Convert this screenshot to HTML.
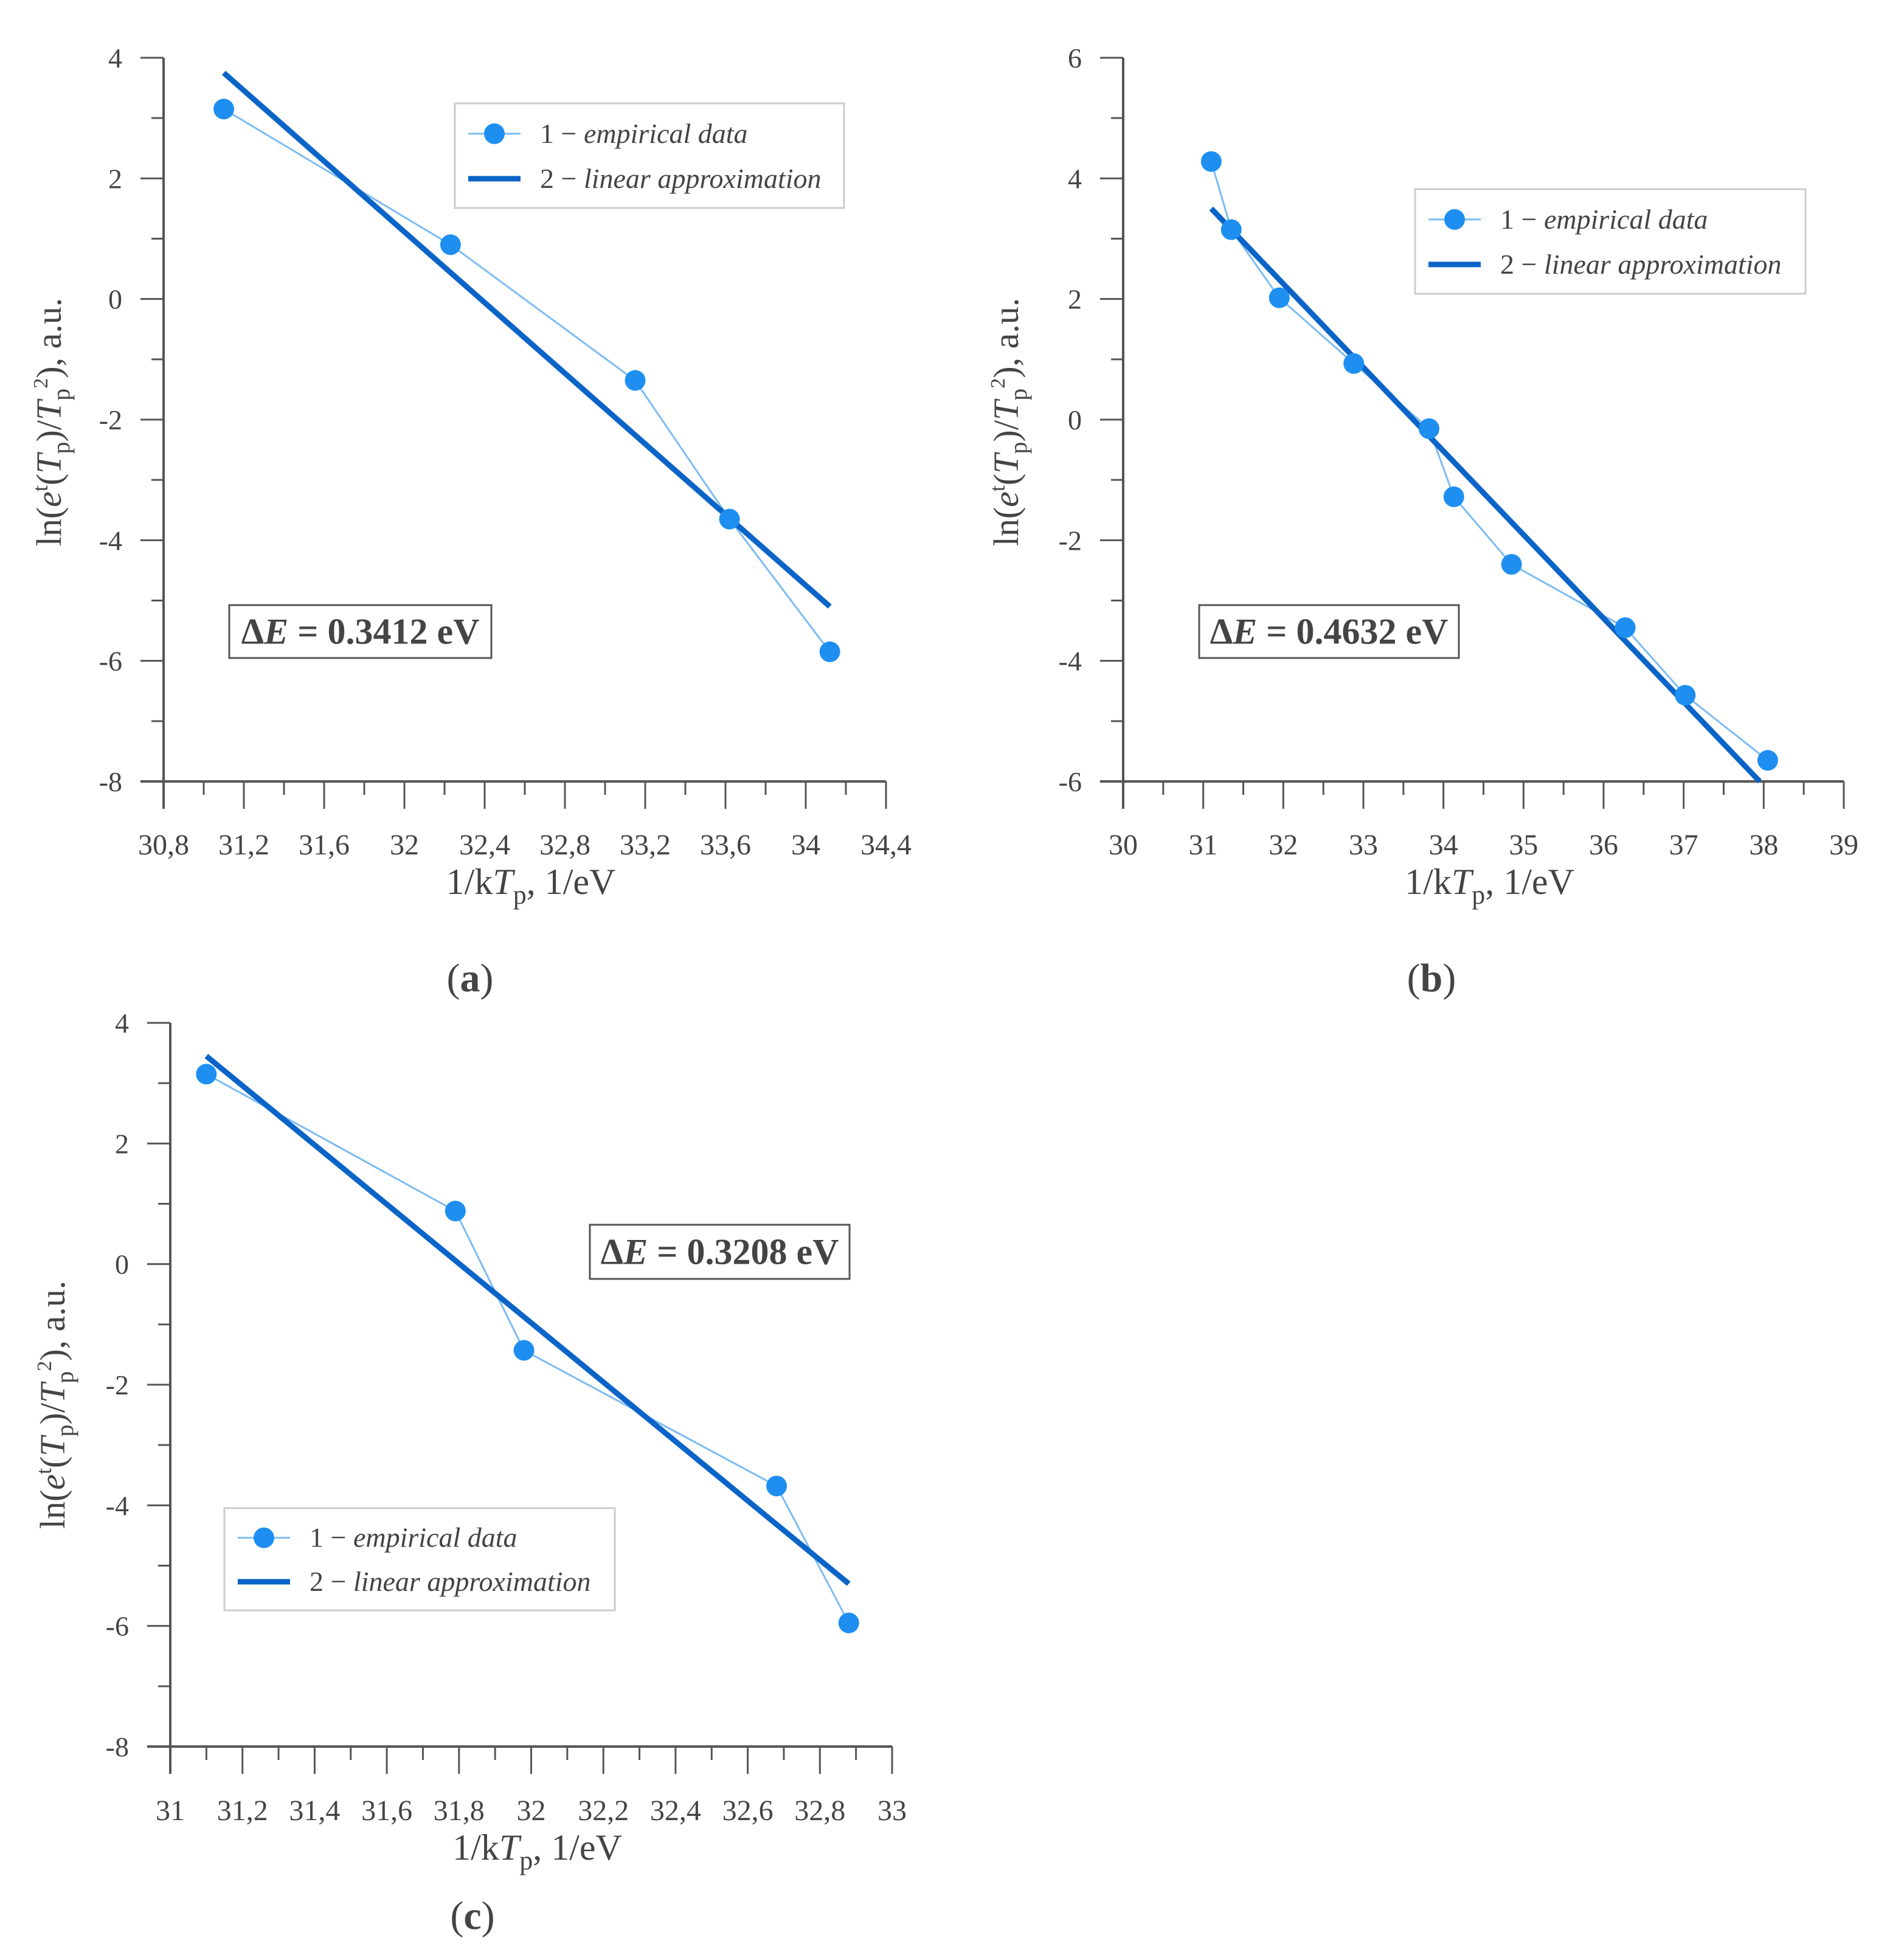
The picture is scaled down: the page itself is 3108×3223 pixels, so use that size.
<!DOCTYPE html>
<html><head><meta charset="utf-8"><style>
html,body{margin:0;padding:0;background:#fff}
svg{display:block}
text{font-family:"Liberation Serif","DejaVu Serif",serif;fill:#444}
</style></head><body>
<svg id="fig" width="3108" height="3223" viewBox="0 0 3108 3223" xmlns="http://www.w3.org/2000/svg"></svg>
<script>
// ---- data panel a ----
const aX = [31.1, 32.23, 33.15, 33.62, 34.12];
const aY = [3.15, 0.9, -1.35, -3.65, -5.85];
const aFitX = [31.1, 34.12];
const aFitY = [3.75, -5.1];
const aXTicks = [30.8, 31.2, 31.6, 32, 32.4, 32.8, 33.2, 33.6, 34, 34.4];
const aYTicks = [4, 2, 0, -2, -4, -6, -8];
// ---- data panel b ----
const bX = [31.1, 31.35, 31.95, 32.88, 33.82, 34.13, 34.85, 36.27, 37.02, 38.05];
const bY = [4.28, 3.15, 2.02, 0.93, -0.15, -1.28, -2.4, -3.45, -4.57, -5.65];
const bFitX = [31.1, 37.95];
const bFitY = [3.5, -6.0];
const bXTicks = [30, 31, 32, 33, 34, 35, 36, 37, 38, 39];
const bYTicks = [6, 4, 2, 0, -2, -4, -6];
// ---- data panel c ----
const cX = [31.1, 31.79, 31.98, 32.68, 32.88];
const cY = [3.15, 0.88, -1.43, -3.68, -5.95];
const cFitX = [31.1, 32.88];
const cFitY = [3.45, -5.3];
const cXTicks = [31, 31.2, 31.4, 31.6, 31.8, 32, 32.2, 32.4, 32.6, 32.8, 33];
const cYTicks = [4, 2, 0, -2, -4, -6, -8];

const NS = "http://www.w3.org/2000/svg";
const svg = document.getElementById('fig');
function el(tag, attrs, parent, txt){
  const e = document.createElementNS(NS, tag);
  for (const k in attrs) e.setAttribute(k, attrs[k]);
  if (txt !== undefined) e.textContent = txt;
  (parent || svg).appendChild(e);
  return e;
}
function fmt(v){ return String(v).replace('.', ','); }

function panel(p){
  const g = el('g', {});
  
  
  const xMin = p.xt[0], xMax = p.xt[p.xt.length-1];
  const yMax = p.yt[0], yMin = p.yt[p.yt.length-1];
  const sx = v => p.x0 + (v - xMin) / (xMax - xMin) * (p.x1 - p.x0);
  const sy = v => p.y0 + (yMax - v) / (yMax - yMin) * (p.y1 - p.y0);
  const ax = '#555';
  const yAxis = el('line', {x1:p.x0, y1:p.y0, x2:p.x0, y2:p.y1 + 45, stroke:ax, 'stroke-width':4}, g);
  
  
  const xAxis = el('line', {x1:p.x0 - 38, y1:p.y1, x2:p.x1, y2:p.y1, stroke:ax, 'stroke-width':4}, g);
  
  
  for (let i = 0; i < p.xt.length; i++){
    const x = sx(p.xt[i]);
    el('line', {x1:x, y1:p.y1, x2:x, y2:p.y1 + 45, stroke:ax, 'stroke-width':3}, g);
    if (i < p.xt.length - 1){
      const xm = sx((p.xt[i] + p.xt[i+1]) / 2);
      el('line', {x1:xm, y1:p.y1, x2:xm, y2:p.y1 + 22, stroke:ax, 'stroke-width':3}, g);
    }
    const t = el('text', {x:x, y:p.tickY, 'font-size':48, 'text-anchor':'middle'}, g, fmt(p.xt[i]));
    
    
  }
  for (let i = 0; i < p.yt.length; i++){
    const y = sy(p.yt[i]);
    el('line', {x1:p.x0 - 38, y1:y, x2:p.x0, y2:y, stroke:ax, 'stroke-width':3}, g);
    if (i < p.yt.length - 1){
      const ym = sy((p.yt[i] + p.yt[i+1]) / 2);
      el('line', {x1:p.x0 - 20, y1:ym, x2:p.x0, y2:ym, stroke:ax, 'stroke-width':3}, g);
    }
    const t = el('text', {x:p.x0 - 68, y:y + 16, 'font-size':46, 'text-anchor':'end'}, g, String(p.yt[i]));
    
    
  }
  const xt = el('text', {x:(p.x0 + p.x1)/2 + 10, y:p.titleY, 'font-size':60, 'text-anchor':'middle', fill:'#333'}, g);
  
  
  xt.innerHTML = '1/k<tspan font-style="italic">T</tspan><tspan font-size="44" dy="16">p</tspan><tspan dy="-16">, 1/eV</tspan>';
  const yt = el('text', {transform:'translate(' + p.ytX + ',' + p.ytY + ') rotate(-90)', 'font-size':58, 'text-anchor':'middle', fill:'#333'}, g);
  
  
  yt.innerHTML = 'ln(<tspan font-style="italic">e</tspan><tspan font-size="36" dy="-22">t</tspan><tspan dy="22">(</tspan><tspan font-style="italic">T</tspan><tspan font-size="40" dy="14">p</tspan><tspan dy="-14">)/</tspan><tspan font-style="italic">T</tspan><tspan font-size="40" dy="14">p</tspan><tspan font-size="34" dy="-36">2</tspan><tspan dy="22">), a.u.</tspan>';
  let d = '';
  for (let i = 0; i < p.dx.length; i++) d += (i ? 'L' : 'M') + sx(p.dx[i]) + ',' + sy(p.dy[i]);
  const thin = el('path', {d:d, fill:'none', stroke:'#7cbcf2', 'stroke-width':3}, g);
  
  
  const fit = el('line', {x1:sx(p.fx[0]), y1:sy(p.fy[0]), x2:sx(p.fx[1]), y2:sy(p.fy[1]), stroke:'#0b64c8', 'stroke-width':9}, g);
  
  
  for (let i = 0; i < p.dx.length; i++){
    const c = el('circle', {cx:sx(p.dx[i]), cy:sy(p.dy[i]), r:17, fill:'#1e8ff0'}, g);
    
    
  }
  const L = p.leg;
  const lg = el('g', {}, g);
  
  
  el('rect', {x:L[0], y:L[1], width:L[2], height:L[3], fill:'#fff', stroke:'#ccc', 'stroke-width':3}, lg);
  const r1 = L[1] + L[3]*0.29, r2 = L[1] + L[3]*0.72;
  el('line', {x1:L[0]+22, y1:r1, x2:L[0]+108, y2:r1, stroke:'#7cbcf2', 'stroke-width':3}, lg);
  el('circle', {cx:L[0]+65, cy:r1, r:17, fill:'#1e8ff0'}, lg);
  el('line', {x1:L[0]+22, y1:r2, x2:L[0]+108, y2:r2, stroke:'#0b64c8', 'stroke-width':9}, lg);
  const e1 = el('text', {x:L[0]+140, y:r1+15, 'font-size':46, fill:'#444'}, lg);
  e1.innerHTML = '1 − <tspan font-style="italic">empirical data</tspan>';
  
  
  const e2 = el('text', {x:L[0]+140, y:r2+15, 'font-size':46, fill:'#444'}, lg);
  e2.innerHTML = '2 − <tspan font-style="italic">linear approximation</tspan>';
  
  
  const B = p.box;
  const bg = el('g', {}, g);
  
  
  el('rect', {x:B[0], y:B[1], width:B[2], height:B[3], fill:'#fff', stroke:'#555', 'stroke-width':3}, bg);
  const bt = el('text', {x:B[0]+B[2]/2, y:B[1]+B[3]/2+20, 'font-size':60, 'font-weight':'bold', 'text-anchor':'middle', fill:'#222'}, bg);
  bt.innerHTML = 'Δ<tspan font-style="italic">E</tspan> = ' + p.de + ' eV';
  const pl = el('text', {x:p.lab[0], y:p.lab[1], 'font-size':66, 'text-anchor':'middle', fill:'#111'}, g);
  pl.innerHTML = '(<tspan font-weight="bold">' + p.id + '</tspan>)';
  
  
}

panel({id:'a', dx:aX, dy:aY, fx:aFitX, fy:aFitY, xt:aXTicks, yt:aYTicks,
  x0:269, x1:1457, y0:95, y1:1285, tickY:1405, titleY:1470, ytX:100, ytY:694,
  leg:[748,170,640,172], box:[377,995,431,87], de:'0.3412', lab:[773,1630]});
panel({id:'b', dx:bX, dy:bY, fx:bFitX, fy:bFitY, xt:bXTicks, yt:bYTicks,
  x0:1847, x1:3032, y0:95, y1:1285, tickY:1405, titleY:1470, ytX:1674, ytY:694,
  leg:[2327,311,642,172], box:[1972,995,427,87], de:'0.4632', lab:[2354,1630]});
panel({id:'c', dx:cX, dy:cY, fx:cFitX, fy:cFitY, xt:cXTicks, yt:cYTicks,
  x0:280, x1:1467, y0:1682, y1:2872, tickY:2993, titleY:3058, ytX:106, ytY:2310,
  leg:[369,2480,642,168], box:[970,2014,427,89], de:'0.3208', lab:[777,3172]});
</script>
</body></html>
